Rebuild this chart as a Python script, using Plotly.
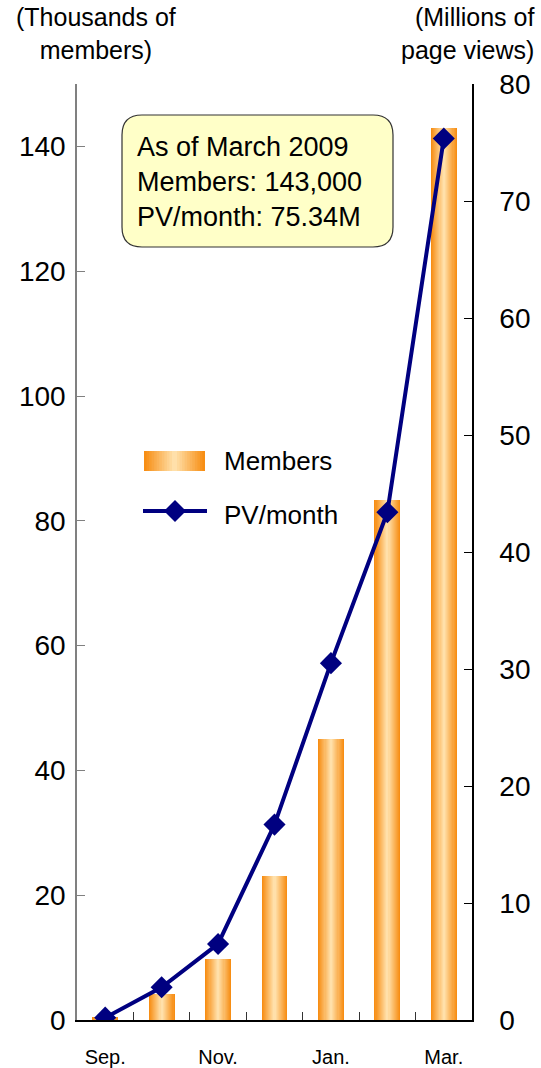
import plotly.graph_objects as go
from plotly.subplots import make_subplots

# ---------------- data ----------------
months = ["Sep.", "Oct.", "Nov.", "Dec.", "Jan.", "Feb.", "Mar."]
month_tick_text = ["Sep.", "", "Nov.", "", "Jan.", "", "Mar."]
members_thousands = [0.5, 4.2, 9.8, 23.0, 45.0, 83.3, 143.0]
pv_millions = [0.2, 2.8, 6.5, 16.7, 30.5, 43.4, 75.34]
left_ticks = [0, 20, 40, 60, 80, 100, 120, 140]
right_ticks = [0, 10, 20, 30, 40, 50, 60, 70, 80]

# ---------------- layout geometry (pixels) ----------------
W, H = 541, 1068
ML, MR, MT, MB = 77, 69, 84, 48
PW, PH = W - ML - MR, H - MT - MB
FONT = "Liberation Sans, Arial, Helvetica, sans-serif"

ORANGE = (247, 142, 20)
LIGHT = (255, 224, 170)
NAVY = "#000080"


def px_x(px):
    return (px - ML) / PW


def px_y(py):
    return (H - MB - py) / PH


def mix(t):
    c = [round(ORANGE[i] + (LIGHT[i] - ORANGE[i]) * t) for i in range(3)]
    return "rgb(%d,%d,%d)" % tuple(c)


fig = make_subplots(specs=[[{"secondary_y": True}]])

# gradient bars: overlaid bar layers, narrower & lighter towards the center
N_LAYERS = 12
BAR_W = 0.46
for k in range(N_LAYERS):
    t = k / (N_LAYERS - 1)
    fig.add_trace(
        go.Bar(
            x=months,
            y=members_thousands,
            width=BAR_W * (1 - k / N_LAYERS),
            marker=dict(color=mix(t), line=dict(width=0)),
            showlegend=False,
            name="Members",
            hoverinfo="skip" if k else None,
        ),
        secondary_y=False,
    )

fig.add_trace(
    go.Scatter(
        x=months,
        y=pv_millions,
        mode="lines+markers",
        line=dict(color=NAVY, width=4),
        marker=dict(symbol="diamond", size=17, color=NAVY),
        name="PV/month",
        showlegend=False,
    ),
    secondary_y=True,
)

fig.update_layout(
    width=W,
    height=H,
    margin=dict(l=ML, r=MR, t=MT, b=MB, pad=0),
    paper_bgcolor="white",
    plot_bgcolor="white",
    barmode="overlay",
    bargap=0,
    font=dict(family=FONT, color="black"),
    showlegend=False,
)

fig.update_xaxes(
    domain=[0, 1],
    type="category",
    range=[-0.5, 6.5],
    tickvals=months,
    ticktext=month_tick_text,
    tickson="boundaries",
    ticks="inside",
    ticklen=8,
    tickcolor="#333",
    showline=True,
    linecolor="black",
    linewidth=1.5,
    showgrid=False,
    zeroline=False,
    automargin=False,
    ticklabelstandoff=18,
    tickfont=dict(size=20, family=FONT),
)

fig.update_yaxes(
    range=[0, 150],
    tickvals=left_ticks,
    ticks="inside",
    ticklen=8,
    tickcolor="#808080",
    showline=True,
    linecolor="#808080",
    linewidth=1.5,
    showgrid=False,
    zeroline=False,
    automargin=False,
    tickfont=dict(size=28, family=FONT),
    ticklabelstandoff=4,
    secondary_y=False,
)
fig.update_yaxes(
    range=[0, 80],
    tickvals=right_ticks,
    ticks="inside",
    ticklen=8,
    tickcolor="black",
    showline=True,
    linecolor="black",
    linewidth=1.5,
    showgrid=False,
    zeroline=False,
    automargin=False,
    tickfont=dict(size=28, family=FONT),
    ticklabelstandoff=20,
    secondary_y=True,
)

shapes = []
annotations = []

# axis titles
annotations.append(dict(
    xref="paper", yref="paper", x=px_x(96), y=px_y(34),
    xanchor="center", yanchor="middle", showarrow=False, align="center",
    text="(Thousands of<br>members)", font=dict(size=25, family=FONT),
))
annotations.append(dict(
    xref="paper", yref="paper", x=px_x(536), y=px_y(34),
    xanchor="right", yanchor="middle", showarrow=False, align="right",
    text="(Millions of<br>page views)", font=dict(size=25, family=FONT),
))

# rounded info box
bx0, bx1, by0, by1, r = 122, 393, 115, 247, 20


def P(x, y):
    return "%.5f,%.5f" % (px_x(x), px_y(y))


path = (
    "M " + P(bx0 + r, by0)
    + " L " + P(bx1 - r, by0)
    + " Q " + P(bx1, by0) + " " + P(bx1, by0 + r)
    + " L " + P(bx1, by1 - r)
    + " Q " + P(bx1, by1) + " " + P(bx1 - r, by1)
    + " L " + P(bx0 + r, by1)
    + " Q " + P(bx0, by1) + " " + P(bx0, by1 - r)
    + " L " + P(bx0, by0 + r)
    + " Q " + P(bx0, by0) + " " + P(bx0 + r, by0)
    + " Z"
)
shapes.append(dict(
    type="path", xref="paper", yref="paper", path=path,
    fillcolor="#FFFFC8", line=dict(color="#333333", width=1.2),
))
annotations.append(dict(
    xref="paper", yref="paper", x=px_x(135), y=px_y(182),
    xanchor="left", yanchor="middle", showarrow=False, align="left",
    text="As of March 2009<br>Members: 143,000<br>PV/month: 75.34M",
    font=dict(size=27, family=FONT),
))

# manual legend: gradient swatch
lx0, lx1, ly0, ly1 = 144, 205, 451, 471
cx = (lx0 + lx1) / 2
half = (lx1 - lx0) / 2
for k in range(N_LAYERS):
    t = k / (N_LAYERS - 1)
    hw = half * (1 - k / N_LAYERS)
    shapes.append(dict(
        type="rect", xref="paper", yref="paper",
        x0=px_x(cx - hw), x1=px_x(cx + hw), y0=px_y(ly1), y1=px_y(ly0),
        fillcolor=mix(t), line=dict(width=0),
    ))
annotations.append(dict(
    xref="paper", yref="paper", x=px_x(222), y=px_y(461),
    xanchor="left", yanchor="middle", showarrow=False,
    text="Members", font=dict(size=26, family=FONT),
))
# legend: line + diamond
shapes.append(dict(
    type="line", xref="paper", yref="paper",
    x0=px_x(143), x1=px_x(207), y0=px_y(511), y1=px_y(511),
    line=dict(color=NAVY, width=4),
))
dcx, dcy, dr = 175, 511, 11
shapes.append(dict(
    type="path", xref="paper", yref="paper",
    path="M " + P(dcx, dcy - dr) + " L " + P(dcx + dr, dcy) + " L "
    + P(dcx, dcy + dr) + " L " + P(dcx - dr, dcy) + " Z",
    fillcolor=NAVY, line=dict(width=0),
))
annotations.append(dict(
    xref="paper", yref="paper", x=px_x(222), y=px_y(515),
    xanchor="left", yanchor="middle", showarrow=False,
    text="PV/month", font=dict(size=26, family=FONT),
))

fig.update_layout(shapes=shapes, annotations=annotations)

fig.write_html(
    "out.html",
    config={"displayModeBar": False},
    post_script="document.body.style.margin='0';document.body.style.overflow='hidden';",
)
